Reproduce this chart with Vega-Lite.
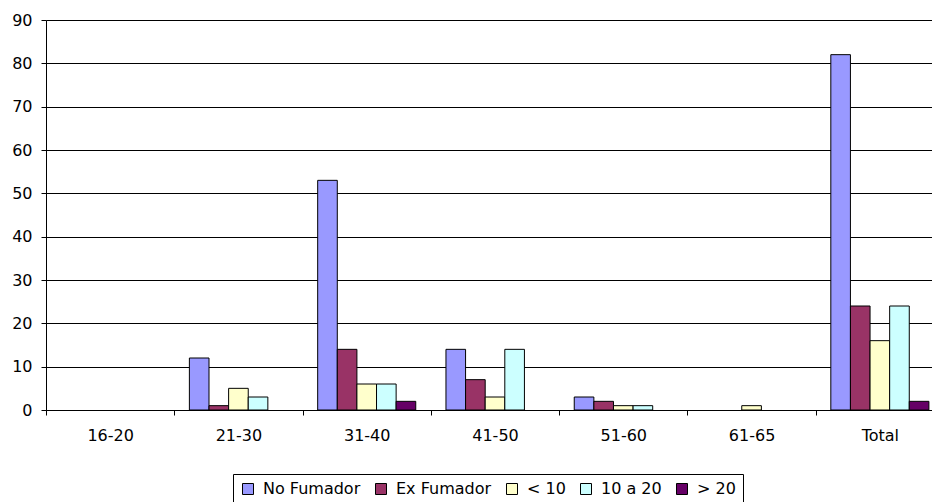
{
  "$schema": "https://vega.github.io/schema/vega-lite/v6.json",
  "autosize": {"type": "none"},
  "width": 898,
  "height": 390,
  "padding": {"left": 46, "top": 20, "right": 0, "bottom": 92},
  "background": "white",
  "config": {
    "view": {"stroke": null},
    "font": "DejaVu Sans"
  },
  "data": {
    "values": [
      {"grupo": "16-20", "tipo": "No Fumador", "valor": 0},
      {"grupo": "16-20", "tipo": "Ex Fumador", "valor": 0},
      {"grupo": "16-20", "tipo": "< 10", "valor": 0},
      {"grupo": "16-20", "tipo": "10 a 20", "valor": 0},
      {"grupo": "16-20", "tipo": "> 20", "valor": 0},
      {"grupo": "21-30", "tipo": "No Fumador", "valor": 12},
      {"grupo": "21-30", "tipo": "Ex Fumador", "valor": 1},
      {"grupo": "21-30", "tipo": "< 10", "valor": 5},
      {"grupo": "21-30", "tipo": "10 a 20", "valor": 3},
      {"grupo": "21-30", "tipo": "> 20", "valor": 0},
      {"grupo": "31-40", "tipo": "No Fumador", "valor": 53},
      {"grupo": "31-40", "tipo": "Ex Fumador", "valor": 14},
      {"grupo": "31-40", "tipo": "< 10", "valor": 6},
      {"grupo": "31-40", "tipo": "10 a 20", "valor": 6},
      {"grupo": "31-40", "tipo": "> 20", "valor": 2},
      {"grupo": "41-50", "tipo": "No Fumador", "valor": 14},
      {"grupo": "41-50", "tipo": "Ex Fumador", "valor": 7},
      {"grupo": "41-50", "tipo": "< 10", "valor": 3},
      {"grupo": "41-50", "tipo": "10 a 20", "valor": 14},
      {"grupo": "41-50", "tipo": "> 20", "valor": 0},
      {"grupo": "51-60", "tipo": "No Fumador", "valor": 3},
      {"grupo": "51-60", "tipo": "Ex Fumador", "valor": 2},
      {"grupo": "51-60", "tipo": "< 10", "valor": 1},
      {"grupo": "51-60", "tipo": "10 a 20", "valor": 1},
      {"grupo": "51-60", "tipo": "> 20", "valor": 0},
      {"grupo": "61-65", "tipo": "No Fumador", "valor": 0},
      {"grupo": "61-65", "tipo": "Ex Fumador", "valor": 0},
      {"grupo": "61-65", "tipo": "< 10", "valor": 1},
      {"grupo": "61-65", "tipo": "10 a 20", "valor": 0},
      {"grupo": "61-65", "tipo": "> 20", "valor": 0},
      {"grupo": "Total", "tipo": "No Fumador", "valor": 82},
      {"grupo": "Total", "tipo": "Ex Fumador", "valor": 24},
      {"grupo": "Total", "tipo": "< 10", "valor": 16},
      {"grupo": "Total", "tipo": "10 a 20", "valor": 24},
      {"grupo": "Total", "tipo": "> 20", "valor": 2}
    ]
  },
  "mark": {"type": "bar", "stroke": "black", "strokeWidth": 1},
  "encoding": {
    "x": {
      "field": "grupo",
      "type": "nominal",
      "sort": null,
      "scale": {"paddingInner": 0, "paddingOuter": 0},
      "axis": {
        "title": null,
        "labelAngle": 0,
        "tickBand": "extent",
        "domainColor": "black",
        "tickColor": "black",
        "tickSize": 5,
        "labelPadding": 12,
        "labelFontSize": 16,
        "labelColor": "black",
        "grid": false
      }
    },
    "xOffset": {
      "field": "tipo",
      "type": "nominal",
      "sort": ["No Fumador", "Ex Fumador", "< 10", "10 a 20", "> 20"],
      "scale": {"paddingInner": 0, "paddingOuter": 0.77}
    },
    "y": {
      "field": "valor",
      "type": "quantitative",
      "scale": {"domain": [0, 90], "nice": false},
      "axis": {
        "title": null,
        "values": [0, 10, 20, 30, 40, 50, 60, 70, 80, 90],
        "grid": true,
        "gridColor": "black",
        "gridOpacity": 1,
        "domainColor": "black",
        "tickColor": "black",
        "tickSize": 5,
        "labelFontSize": 16,
        "labelColor": "black",
        "labelPadding": 9
      }
    },
    "strokeOpacity": {
      "condition": {"test": "datum.valor > 0", "value": 1},
      "value": 0
    },
    "color": {
      "field": "tipo",
      "type": "nominal",
      "scale": {
        "domain": ["No Fumador", "Ex Fumador", "< 10", "10 a 20", "> 20"],
        "range": ["#9999FF", "#993366", "#FFFFCC", "#CCFFFF", "#660066"]
      },
      "legend": {
        "title": null,
        "orient": "none",
        "direction": "horizontal",
        "legendX": 187,
        "legendY": 454,
        "strokeColor": "black",
        "fillColor": "white",
        "padding": 7,
        "symbolType": "square",
        "symbolSize": 121,
        "symbolStrokeColor": "black",
        "symbolStrokeWidth": 1,
        "symbolOpacity": 1,
        "labelFontSize": 16,
        "labelColor": "black",
        "labelOffset": 7,
        "columnPadding": 12
      }
    }
  }
}
